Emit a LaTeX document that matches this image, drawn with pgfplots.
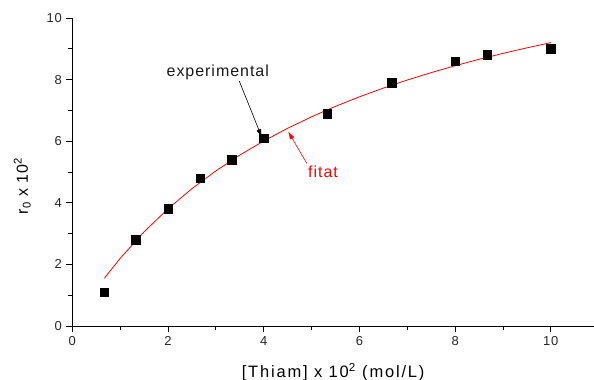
\documentclass[border=0pt]{standalone}
\usepackage{fontspec}
\setmainfont{Liberation Sans}[LetterSpace=6]
\usepackage{pgfplots}
\pgfplotsset{compat=1.18}
\usetikzlibrary{arrows.meta}
\begin{document}
\fontsize{13bp}{15bp}\selectfont
\begin{tikzpicture}
\begin{axis}[
  at={(0,0)}, anchor=south west,
  scale only axis, width=521.6bp, height=308bp,
  xmin=0, xmax=10.9, ymin=0, ymax=10,
  axis lines=left, axis line style={-, line width=0.9bp, black},
  xtick={0,2,...,10}, ytick={0,2,...,10},
  minor x tick num=1, minor y tick num=1,
  tick align=outside, major tick length=6bp, minor tick length=4bp,
  tick style={line width=0.9bp, black},
  every tick label/.append style={font=\fontsize{13bp}{15bp}\selectfont, text=black!85},
  /pgf/number format/assume math mode=true,
  xlabel={[Thiam] x 10\textsuperscript{2} (mol/L)},
  x label style={at={(axis description cs:0.5,0)}, anchor=center, yshift=-46bp, font=\fontsize{16.5bp}{18bp}\selectfont\addfontfeatures{LetterSpace=11}},
  ylabel={r\textsubscript{0} x 10\textsuperscript{2}},
  y label style={at={(axis description cs:-0.0959,0.455)}, anchor=center, font=\fontsize{16bp}{18bp}\selectfont},
  clip=false,
]
\addplot[red, line width=0.8bp, no marks] coordinates {
  (0.67,1.55) (1,2.196) (1.5,3.058) (2,3.805) (2.5,4.459) (3,5.035)
  (3.5,5.548) (4,6.006) (4.5,6.419) (5,6.792) (5.5,7.132) (6,7.441)
  (6.5,7.725) (7,7.986) (7.5,8.227) (8,8.451) (8.5,8.658) (9,8.851)
  (9.5,9.031) (10,9.200)
};
\addplot[only marks, mark=square*, mark size=4.3bp, black] coordinates {
  (0.67,1.1) (1.33,2.8) (2,3.8) (2.67,4.8) (3.33,5.4) (4,6.1)
  (5.33,6.9) (6.67,7.9) (8,8.6) (8.67,8.8) (10,9.0)
};
\node[text=black!90, font=\fontsize{16bp}{18bp}\selectfont] at (axis cs:3.04,8.25) {experimental};
\draw[-{Latex[length=8bp,width=5bp]}, black, line width=0.6bp] (axis cs:3.49,7.95) -- (axis cs:3.96,6.13);
\node[text=red, font=\fontsize{16bp}{18bp}\selectfont] at (axis cs:5.24,5.0) {fitat};
\draw[-{Latex[length=8bp,width=5bp]}, red, line width=0.6bp] (axis cs:4.90,5.28) -- (axis cs:4.51,6.32);
\end{axis}
\pgfresetboundingbox
\path (-72.3bp,-54bp) rectangle (521.7bp,326bp);
\end{tikzpicture}
\end{document}
